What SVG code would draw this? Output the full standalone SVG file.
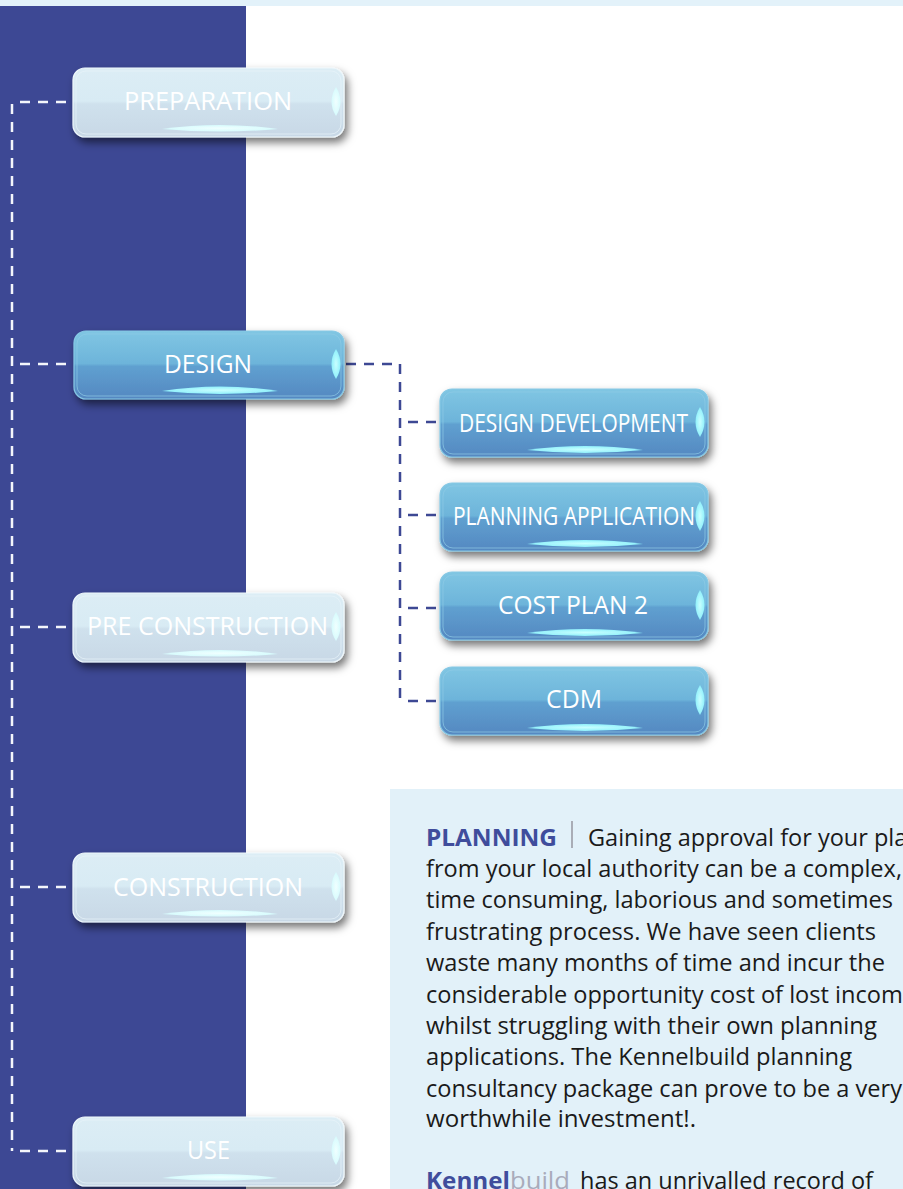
<svg xmlns="http://www.w3.org/2000/svg" width="903" height="1189" viewBox="0 0 903 1189">
<style>
.lbl{font-family:"Open Sans","Liberation Sans",sans-serif;font-size:25px;fill:#fff;text-anchor:start}
.body{font-family:"Open Sans","Liberation Sans",sans-serif;font-size:23px;fill:#1a1a1a}
.dashW{fill:none;stroke:#f4f6fb;stroke-width:2.5;stroke-dasharray:10 8}
.dashB{fill:none;stroke:#3d4894;stroke-width:2.5;stroke-dasharray:10 8}
.light{fill:url(#gLight);stroke:#eef7fb;stroke-width:1.2}
.blue{fill:url(#gBlue);stroke:#86c8e4;stroke-width:1.2}
.inL{fill:none;stroke:#e8f4fa;stroke-width:1;opacity:0.7}
.inB{fill:none;stroke:#8fcbe6;stroke-width:1;opacity:0.7}
.lensL{fill:url(#gLensL)}
.lensB{fill:url(#gLensB)}
</style>
<defs>
<linearGradient id="gLight" x1="0" y1="0" x2="0" y2="1">
<stop offset="0" stop-color="#dcedf5"/>
<stop offset="0.48" stop-color="#d8ebf4"/>
<stop offset="0.52" stop-color="#cfe1ed"/>
<stop offset="1" stop-color="#c8d8e6"/>
</linearGradient>
<linearGradient id="gBlue" x1="0" y1="0" x2="0" y2="1">
<stop offset="0" stop-color="#80c6e3"/>
<stop offset="0.48" stop-color="#6db4da"/>
<stop offset="0.52" stop-color="#5fa0d0"/>
<stop offset="1" stop-color="#5588c1"/>
</linearGradient>
<radialGradient id="gLensL" cx="0.5" cy="0.5" r="0.5">
<stop offset="0" stop-color="#f0ffff"/>
<stop offset="1" stop-color="#d6fbfd"/>
</radialGradient>
<radialGradient id="gLensB" cx="0.5" cy="0.5" r="0.5">
<stop offset="0" stop-color="#c8ffff"/>
<stop offset="1" stop-color="#8ff0fb"/>
</radialGradient>
<filter id="sh" x="-10%" y="-20%" width="125%" height="160%">
<feDropShadow dx="3" dy="5" stdDeviation="4" flood-color="#000" flood-opacity="0.55"/>
</filter>
</defs>

<rect x="0" y="0" width="903" height="1189" fill="#ffffff"/>
<rect x="0" y="0" width="903" height="6" fill="#e3f2fa"/>
<rect x="0" y="6" width="246" height="1183" fill="#3d4894"/>
<rect x="390" y="789" width="513" height="400" fill="#e2f1f9"/>

<g id="connectors">
<path class="dashW" d="M12,104 V1151"/>
<path class="dashW" d="M20,102 H70"/>
<path class="dashW" d="M20,364 H70"/>
<path class="dashW" d="M20,627 H70"/>
<path class="dashW" d="M20,887 H70"/>
<path class="dashW" d="M20,1151 H70"/>
<path class="dashB" d="M346,364 H400 V701"/>
<path class="dashB" d="M408,422 H438"/>
<path class="dashB" d="M408,515 H438"/>
<path class="dashB" d="M408,608 H438"/>
<path class="dashB" d="M408,701 H438"/>
</g>

<g id="node-preparation" transform="translate(73,68)">
<rect class="light" width="271" height="69" rx="12" filter="url(#sh)"/>
<rect class="inL" x="3" y="3" width="265" height="63" rx="10"/>
<path class="lensL" d="M263,19 Q272,34 263,48 Q254,34 263,19Z"/>
<path class="lensL" d="M89,61 Q147,53 205,61 Q147,66 89,61Z"/>
<text class="lbl" x="51" y="42" textLength="168" lengthAdjust="spacingAndGlyphs">PREPARATION</text>
</g>

<g id="node-design" transform="translate(74,331)">
<rect class="blue" width="270" height="68" rx="12" filter="url(#sh)"/>
<rect class="inB" x="3" y="3" width="264" height="62" rx="10"/>
<path class="lensB" d="M262,18 Q271,33 262,48 Q253,33 262,18Z"/>
<path class="lensB" d="M88,60 Q146,51 204,60 Q146,66 88,60Z"/>
<text class="lbl" x="90" y="42" textLength="88" lengthAdjust="spacingAndGlyphs">DESIGN</text>
</g>

<g id="node-preconstruction" transform="translate(73,593)">
<rect class="light" width="271" height="69" rx="12" filter="url(#sh)"/>
<rect class="inL" x="3" y="3" width="265" height="63" rx="10"/>
<path class="lensL" d="M263,19 Q272,34 263,48 Q254,34 263,19Z"/>
<path class="lensL" d="M89,61 Q147,53 205,61 Q147,66 89,61Z"/>
<text class="lbl" x="14" y="42" textLength="241" lengthAdjust="spacingAndGlyphs">PRE CONSTRUCTION</text>
</g>

<g id="node-construction" transform="translate(73,853)">
<rect class="light" width="271" height="69" rx="12" filter="url(#sh)"/>
<rect class="inL" x="3" y="3" width="265" height="63" rx="10"/>
<path class="lensL" d="M263,19 Q272,34 263,48 Q254,34 263,19Z"/>
<path class="lensL" d="M89,61 Q147,53 205,61 Q147,66 89,61Z"/>
<text class="lbl" x="40" y="43" textLength="190" lengthAdjust="spacingAndGlyphs">CONSTRUCTION</text>
</g>

<g id="node-use" transform="translate(73,1117)">
<rect class="light" width="271" height="69" rx="12" filter="url(#sh)"/>
<rect class="inL" x="3" y="3" width="265" height="63" rx="10"/>
<path class="lensL" d="M263,19 Q272,34 263,48 Q254,34 263,19Z"/>
<path class="lensL" d="M89,61 Q147,53 205,61 Q147,66 89,61Z"/>
<text class="lbl" x="114" y="42" textLength="43" lengthAdjust="spacingAndGlyphs">USE</text>
</g>

<g id="node-design-development" transform="translate(440,389)">
<rect class="blue" width="268" height="68" rx="12" filter="url(#sh)"/>
<rect class="inB" x="3" y="3" width="262" height="62" rx="10"/>
<path class="lensB" d="M260,18 Q269,33 260,48 Q251,33 260,18Z"/>
<path class="lensB" d="M87,61 Q145,53 203,61 Q145,67 87,61Z"/>
<text class="lbl" x="19" y="43" textLength="229" lengthAdjust="spacingAndGlyphs">DESIGN DEVELOPMENT</text>
</g>

<g id="node-planning-application" transform="translate(440,483)">
<rect class="blue" width="268" height="68" rx="12" filter="url(#sh)"/>
<rect class="inB" x="3" y="3" width="262" height="62" rx="10"/>
<path class="lensB" d="M260,18 Q269,33 260,48 Q251,33 260,18Z"/>
<path class="lensB" d="M87,61 Q145,53 203,61 Q145,67 87,61Z"/>
<text class="lbl" x="13" y="42" textLength="242" lengthAdjust="spacingAndGlyphs">PLANNING APPLICATION</text>
</g>

<g id="node-cost-plan-2" transform="translate(440,572)">
<rect class="blue" width="268" height="68" rx="12" filter="url(#sh)"/>
<rect class="inB" x="3" y="3" width="262" height="62" rx="10"/>
<path class="lensB" d="M260,18 Q269,33 260,48 Q251,33 260,18Z"/>
<path class="lensB" d="M87,61 Q145,53 203,61 Q145,67 87,61Z"/>
<text class="lbl" x="58" y="42" textLength="150" lengthAdjust="spacingAndGlyphs">COST PLAN 2</text>
</g>

<g id="node-cdm" transform="translate(440,667)">
<rect class="blue" width="268" height="68" rx="12" filter="url(#sh)"/>
<rect class="inB" x="3" y="3" width="262" height="62" rx="10"/>
<path class="lensB" d="M260,18 Q269,33 260,48 Q251,33 260,18Z"/>
<path class="lensB" d="M87,61 Q145,53 203,61 Q145,67 87,61Z"/>
<text class="lbl" x="106" y="41" textLength="56" lengthAdjust="spacingAndGlyphs">CDM</text>
</g>

<g id="textblock">
<text class="body" x="426" y="846" font-weight="bold" style="fill:#3f4d9c" textLength="131" lengthAdjust="spacingAndGlyphs">PLANNING</text>
<rect x="571" y="821" width="2" height="27" fill="#a9adb6"/>
<text class="body" x="588" y="846" textLength="345" lengthAdjust="spacingAndGlyphs">Gaining approval for your plans</text>
<text class="body" x="426" y="877" textLength="476" lengthAdjust="spacingAndGlyphs">from your local authority can be a complex,</text>
<text class="body" x="426" y="908" textLength="467" lengthAdjust="spacingAndGlyphs">time consuming, laborious and sometimes</text>
<text class="body" x="426" y="940" textLength="450" lengthAdjust="spacingAndGlyphs">frustrating process. We have seen clients</text>
<text class="body" x="426" y="971" textLength="459" lengthAdjust="spacingAndGlyphs">waste many months of time and incur the</text>
<text class="body" x="426" y="1003" textLength="490" lengthAdjust="spacingAndGlyphs">considerable opportunity cost of lost income</text>
<text class="body" x="426" y="1034" textLength="451" lengthAdjust="spacingAndGlyphs">whilst struggling with their own planning</text>
<text class="body" x="426" y="1065" textLength="426" lengthAdjust="spacingAndGlyphs">applications. The Kennelbuild planning</text>
<text class="body" x="426" y="1097" textLength="476" lengthAdjust="spacingAndGlyphs">consultancy package can prove to be a very</text>
<text class="body" x="426" y="1127" textLength="270" lengthAdjust="spacingAndGlyphs">worthwhile investment!.</text>
<text class="body" x="426" y="1189" font-weight="bold" style="fill:#3f4d9c" textLength="84" lengthAdjust="spacingAndGlyphs">Kennel</text>
<text class="body" x="510" y="1189" style="fill:#a9abbb" textLength="60" lengthAdjust="spacingAndGlyphs">build</text>
<text class="body" x="580" y="1189" textLength="293" lengthAdjust="spacingAndGlyphs">has an unrivalled record of</text>
</g>
</svg>
